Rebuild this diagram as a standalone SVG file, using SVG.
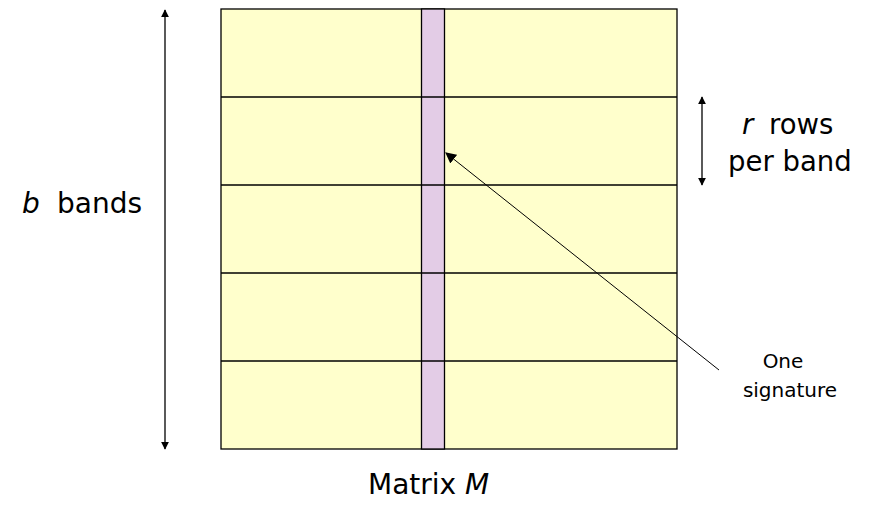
<svg xmlns="http://www.w3.org/2000/svg" width="873" height="506" viewBox="0 0 873 506">
<style>
.t{font-family:"DejaVu Sans",Verdana,sans-serif;fill:#000}
.i{font-style:italic}
.ln{stroke:#000;stroke-width:1.3;fill:none}
</style>
<defs>
<marker id="ah" viewBox="0 0 10 10" refX="9" refY="5" markerWidth="8" markerHeight="8" markerUnits="userSpaceOnUse" orient="auto-start-reverse">
<path d="M0,0 L10,5 L0,10 z" fill="#000"/>
</marker>
<marker id="ah2" viewBox="0 0 10 10" refX="9" refY="5" markerWidth="11" markerHeight="11" markerUnits="userSpaceOnUse" orient="auto">
<path d="M0,0 L10,5 L0,10 z" fill="#000"/>
</marker>
</defs>
<g id="matrix">
<rect x="221" y="9" width="456" height="440" fill="#FFFFCC" stroke="#000" stroke-width="1.3"/>
</g>
<g id="signature">
<rect x="421.5" y="9" width="23" height="440" fill="#E3CCE6" stroke="#000" stroke-width="1.3"/>
</g>
<g id="band-lines">
<line class="ln" x1="221" y1="97" x2="677" y2="97"/>
<line class="ln" x1="221" y1="185" x2="677" y2="185"/>
<line class="ln" x1="221" y1="273" x2="677" y2="273"/>
<line class="ln" x1="221" y1="361" x2="677" y2="361"/>
</g>
<g id="connectors">
<line x1="165" y1="10" x2="165" y2="449" stroke="#000" stroke-width="1.3" marker-start="url(#ah)" marker-end="url(#ah)"/>
<line x1="702" y1="97" x2="702" y2="185" stroke="#000" stroke-width="1.3" marker-start="url(#ah)" marker-end="url(#ah)"/>
<line x1="719" y1="370" x2="446" y2="153" stroke="#000" stroke-width="1" marker-end="url(#ah2)"/>
</g>
<g id="label-bands">
<text class="t" y="213" font-size="28"><tspan class="i" x="22">b</tspan><tspan x="57">bands</tspan></text>
</g>
<g id="label-rows">
<text class="t" y="134" font-size="27.5"><tspan class="i" x="742">r</tspan><tspan x="769">rows</tspan></text>
<text class="t" x="728" y="171" font-size="27.5">per band</text>
</g>
<g id="label-signature">
<text class="t" x="783" y="368" font-size="20" text-anchor="middle">One</text>
<text class="t" x="790" y="397" font-size="20" text-anchor="middle">signature</text>
</g>
<g id="label-matrix">
<text class="t" x="368" y="494" font-size="28">Matrix <tspan class="i">M</tspan></text>
</g>
</svg>
